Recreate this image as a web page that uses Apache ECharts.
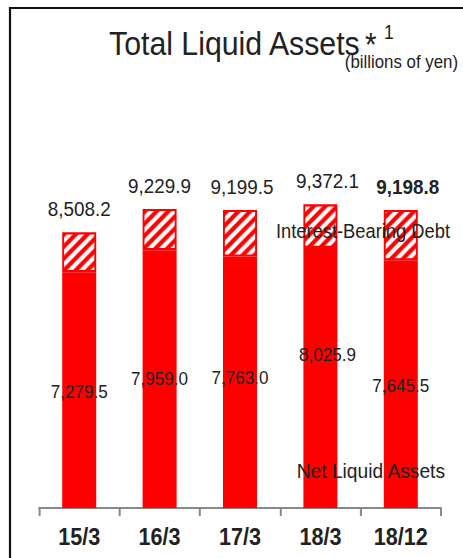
<!DOCTYPE html>
<html>
<head>
<meta charset="utf-8">
<script src="https://cdn.jsdelivr.net/npm/echarts@6/dist/echarts.min.js"></script>
<style>
  html, body { margin: 0; padding: 0; background: #fff; overflow: hidden; }
  #wrap { width: 463px; height: 558px; overflow: hidden; }
  /* drawn wide, then squeezed horizontally to get a condensed typeface look */
  #chart { width: 515px; height: 558px; transform: scaleX(0.9); transform-origin: 0 0; }
</style>
</head>
<body>
<div id="wrap"><div id="chart"></div></div>
<script>
// Fiscal period ends
const categories = ['15/3', '16/3', '17/3', '18/3', '18/12'];
// Net liquid assets (billions of yen)
const netLiquidAssets = [7279.5, 7959.0, 7763.0, 8025.9, 7645.5];
// Total liquid assets (billions of yen)
const totalLiquidAssets = [8508.2, 9229.9, 9199.5, 9372.1, 9198.8];
// Interest-bearing debt = total - net
const interestBearingDebt = totalLiquidAssets.map((t, i) => +(t - netLiquidAssets[i]).toFixed(1));

const S = 0.9;                  // horizontal squeeze applied by CSS
const W = 515;                  // internal drawing width
const X = px => px / S;         // screen x -> internal x
const FONT = '"Liberation Sans", Arial, sans-serif';
const RED = '#ff0000';
const INK = '#222';
const fmt = v => v.toLocaleString('en-US', { minimumFractionDigits: 1, maximumFractionDigits: 1 });

// Diagonal red/white hatch tile (pre-stretched so it looks 45deg after squeeze)
function hatchTile() {
  const w = 13, h = 12;
  const c = document.createElement('canvas');
  c.width = w; c.height = h;
  const g = c.getContext('2d');
  g.fillStyle = '#fff';
  g.fillRect(0, 0, w, h);
  g.strokeStyle = RED;
  g.lineWidth = 4.4;
  for (let n = 0; n <= 2; n++) {
    // line x/w + y/h = n
    g.beginPath();
    g.moveTo(n * w + w, -h);
    g.lineTo(n * w - 2 * w, 2 * h);
    g.stroke();
  }
  return c.toDataURL();
}

// Per-bar label nudges (screen px)
const netLabelOffsets = [[0, 2], [0, 0], [0, -5], [7, -23], [0, 2]];
const totalLabelOffsets = [[0, 0], [0, 0], [2, 0], [7, 0], [7, 0]];

function txt(opts) {
  return {
    type: 'text', z: 100,
    x: X(opts.x), y: opts.y, scaleX: opts.sx || 1,
    style: {
      text: opts.text, fill: INK,
      font: (opts.weight || 'normal') + ' ' + opts.size + 'px ' + FONT,
      align: opts.align || 'left', verticalAlign: 'middle'
    }
  };
}

const chart = echarts.init(document.getElementById('chart'), null, { renderer: 'svg' });
chart.setOption({
  animation: false,
  backgroundColor: '#fff',
  textStyle: { fontFamily: FONT },
  grid: { left: X(39), right: W - X(441), top: 184, bottom: 50 },
  xAxis: {
    type: 'category',
    data: categories,
    boundaryGap: true,
    axisLine: { lineStyle: { color: '#888', width: 2 } },
    axisTick: { show: true, length: 8, lineStyle: { color: '#888', width: X(2) } },
    axisLabel: { color: INK, fontSize: 24, fontWeight: 'bold', fontFamily: FONT, margin: 17 }
  },
  yAxis: { type: 'value', min: 0, max: 10000, show: false, splitLine: { show: false } },
  series: [
    {
      name: 'Net Liquid Assets',
      type: 'bar',
      stack: 'total',
      barWidth: X(34),
      itemStyle: { color: RED },
      data: netLiquidAssets.map((v, i) => ({
        value: v,
        label: { offset: [X(netLabelOffsets[i][0]), netLabelOffsets[i][1]] }
      })),
      label: {
        show: true, position: 'inside', color: INK, fontSize: 19, fontFamily: FONT,
        formatter: p => fmt(p.value)
      }
    },
    {
      name: 'Interest-Bearing Debt',
      type: 'bar',
      stack: 'total',
      barWidth: X(34),
      itemStyle: { color: { image: hatchTile(), repeat: 'repeat' }, borderColor: RED, borderWidth: 2.1 },
      data: interestBearingDebt.map((v, i) => ({
        value: v,
        label: {
          offset: [X(totalLabelOffsets[i][0]), totalLabelOffsets[i][1]],
          fontWeight: i === categories.length - 1 ? 'bold' : 'normal'
        }
      })),
      label: {
        show: true, position: 'top', distance: 13, color: INK, fontSize: 21, fontFamily: FONT,
        formatter: p => fmt(totalLiquidAssets[p.dataIndex])
      }
    }
  ],
  graphic: [
    // frame
    { type: 'line', z: 100, shape: { x1: X(10), y1: 8, x2: W, y2: 8 }, style: { stroke: '#111', lineWidth: 2 } },
    { type: 'line', z: 100, shape: { x1: X(10), y1: 7, x2: X(10), y2: 558 }, style: { stroke: '#111', lineWidth: X(2.2) } },
    // title
    txt({ text: 'Total Liquid Assets', x: 109, y: 43.5, size: 33, sx: 1.02 }),
    txt({ text: '*', x: 365, y: 45, size: 33, sx: 1.0 }),
    txt({ text: '1', x: 384, y: 32.5, size: 19.5, sx: 1.0 }),
    txt({ text: '(billions of yen)', x: 458, y: 61.5, size: 19, sx: 0.985, align: 'right' }),
    // series names
    txt({ text: 'Interest-Bearing Debt', x: 450, y: 230.5, size: 20.5, sx: 0.993, align: 'right' }),
    txt({ text: 'Net Liquid Assets', x: 445, y: 470.5, size: 20, sx: 1.067, align: 'right' })
  ]
});
</script>
</body>
</html>
